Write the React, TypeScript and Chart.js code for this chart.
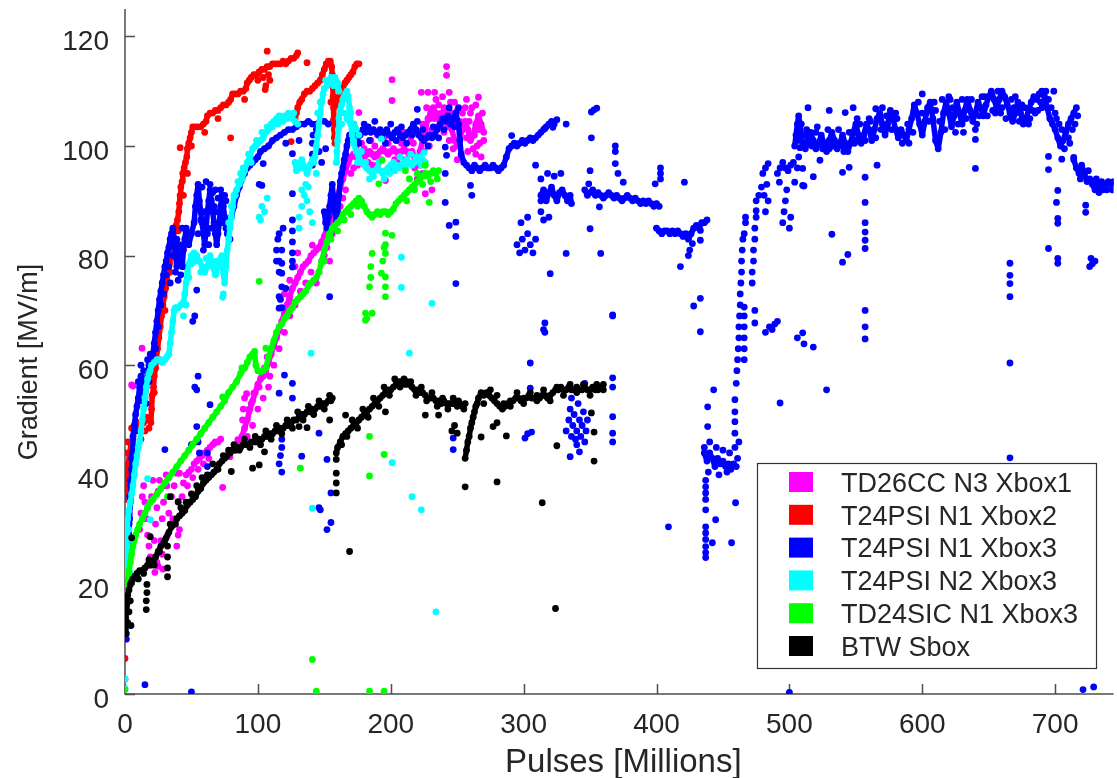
import React, { useEffect, useRef } from 'react';
import { Chart, registerables } from 'chart.js';

Chart.register(...registerables);

type Pt = [number, number];

// ---- series meta ----
const seriesNames = ['TD26CC N3 Xbox1', 'T24PSI N1 Xbox2', 'T24PSI N1 Xbox3', 'T24PSI N2 Xbox3', 'TD24SIC N1 Xbox3', 'BTW Sbox'];
const seriesColors = ['#ff00ff', '#ff0000', '#0000ff', '#00ffff', '#00ff00', '#000000'];
const xTicks = [0, 100, 200, 300, 400, 500, 600, 700];
const yTicks = [0, 20, 40, 60, 80, 100, 120];
const xTitle = 'Pulses [Millions]';
const yTitle = 'Gradient [MV/m]';

// ---- TD26CC N3 Xbox1 ----
const magentaTrace: Pt[] = [[86,46],[88,47],[90,48.5],[92,50],[94,52],[96,53.5],[98,55],[100,56.5],[102,57.5],[104,58],[106,59],[108,60.5],[110,62],[112,63.5],[114,65],[116,66.5],[118,68],[120,69.5],[122,71],[124,72.5],[126,74],[128,75],[130,76],[132,77],[134,78],[136,78.5],[138,79],[140,80],[142,80.5],[144,81],[146,81.5],[148,82.5],[150,83.5],[152,85],[154,86],[156,87.5],[158,89],[160,91],[162,92.5],[164,94],[166,95.5],[168,97],[170,98],[172,98.5],[174,98],[176,98.5],[178,97.5],[180,98],[182,98.5],[184,99],[186,98.5],[188,98],[190,98.5],[192,99],[194,99.5],[196,99],[198,98.5],[200,99],[202,99.5],[204,99],[206,98.5],[208,99],[210,99.5],[212,99],[214,98.5],[216,99],[218,98],[220,97],[222,99],[224,101],[226,103],[228,105],[230,106],[232,107],[234,106],[236,105],[238,104],[240,105],[242,106.5],[244,105],[246,103],[248,101],[250,100],[252,101.5],[254,103],[256,104.5],[258,103],[260,101],[262,102],[264,104],[266,105.5],[268,104],[270,102.5]];
const magentaDots: Pt[] = [[0,2.7],[0,39.6],[12.8,63.1],[5,56.4],[6,56.2],[11,30],[12,33],[13,36],[14,38],[15,35],[16,32],[17,29],[18,27],[19,25],[20,36],[21,39],[22,28],[23,31],[24,34],[25,37],[26,39],[27,28],[28,32],[29,35],[30,38],[31,40],[33,33],[35,36],[37,38],[39,40.3],[39,27],[40,29],[41,30],[22.5,22.2],[25,23.3],[28.5,22.8],[31.5,38],[33,39.5],[41,40.3],[24,24],[28,25.5],[32,29],[36,32],[40,35],[44,38.5],[48,40.5],[52,42],[56,43],[60,44],[64,45],[68,46],[72,46.5],[46,40],[50,41],[54,42.5],[58,43.5],[62,44.5],[66,45.5],[70,46],[43,36],[47,38],[51,39.5],[55,41],[59,42],[63,43],[67.5,45.8],[73.5,37.7],[79,43.3],[82,44.5],[85,46.4],[88.5,50],[89,52],[90,54],[91.5,54.8],[93,51.9],[95,53],[97,54.9],[101,56],[103,58],[105,59.5],[107,61.5],[109,58],[92,47],[96,49],[100,52],[104,54],[108,56],[112,60],[116,63],[120,66],[124,69],[128,71],[132,73.5],[136,75],[140,77],[144,75],[146,77],[148,79],[150,80],[152,81.5],[154,79],[156,84],[158,86],[160,87],[162,89],[164,90.5],[166,92],[120,73],[124,75.5],[128,78],[130,80.5],[124,70.6],[126,71.5],[141,81.9],[201,112.1],[201,108.3],[242,114.5],[242,112.9],[223,109.8],[228,109.8],[233,109.8],[244,109.8],[266,108.9],[256,107],[176,106.1],[231,92],[226,91.3],[196,93.7],[185,101],[190,102],[195,101.5],[205,101],[210,102.5],[215,101.5],[226,103],[230,105],[235,103.5],[240,107],[245,108],[250,106.5],[255,104],[260,106],[265,100],[268,98],[270,101],[250,97.5],[262,99.5],[244,101],[218,96],[220,94],[224,95],[205,97],[190,96.5],[180,99.5],[172,96],[174,100],[170,95],
[178,100.5],[183,97],[188,100],[193,97.5],[198,100.5],[203,97.5],[208,100.5],[213,97],[217,100.5],[222,96.5],[225,99],[228,102],[231,103],[233,105],[236,107.5],[238,106],[240,102.5],[243,103.5],[246,106],[248,104],[252,104.5],[254,106],[257,101.5],[259,104.5],[261,107],[263,102],[266,103],[269,106],[227,107],[234,108.5],[239,109],[248,108],[257,108.5],[264,107.5],[229,100],[236,101.5],[247,99.5],[253,98],[258,99],[264,98.5],[267,100.5],[224,104],[232,102],[211,97.5],[199,96],[186,96.5],[175,96.5]];

// ---- T24PSI N1 Xbox2 ----
const redTraceA: Pt[] = [[0,35.5],[0.5,37],[1,38.5],[1.5,40],[2.5,42],[3.5,44],[4.5,45.5],[6,46.5],[7,48],[8.5,49],[10,49.5],[12,49],[14,49.5],[16,50.5],[18,50],[19.5,49.5],[20,52],[20.5,54.5],[21.5,56],[22,58],[23,59.5],[23.5,61],[24.5,63],[25.5,65],[26.5,67],[27.5,69],[28.5,71],[29.5,72.5],[30.5,74],[31.5,75.5],[32.5,77],[33.5,78.5],[34.5,80],[35,82],[36,83.5],[37,84.5],[38.5,85.5],[39.5,86.5],[40.5,88],[41,89.5],[41.5,91],[42,92.5],[43,93.5],[43.5,95],[44.5,96],[45.5,97],[46.5,98],[47,99.5],[48,100.5],[49,101.5],[50,102.5],[51,103.5],[53,103.5],[55,103.5],[57,103.5],[59,104],[61,104.5],[62,105.5],[64,106],[66,106],[68,106.5],[70,106.5],[72,107],[74,107.5],[76,107.5],[78,108],[79.5,108.5],[81,109.5],[83,109.5],[85,109.5],[87,110],[89,110],[91,110.5],[92,111.5],[93.5,112],[95,112.5],[97,113],[99,113],[101,113.5],[103,114],[105,114],[107,114.5],[109,114.5],[111,115],[113,115],[115,115],[117,115],[119,115.5],[121,115],[123,115.5],[125,116],[127,116],[129,116.5],[130,117]];
const redTraceB: Pt[] = [[128,105],[129,106],[130,107],[131.5,108],[133,108.5],[135,109.5],[137,110],[139,110],[141,110.5],[143,111],[145,111.5],[147,112],[148.5,113],[150,114],[151.5,115],[153,115.5],[154.5,115.5],[155.5,114.5],[156,113],[156.3,111],[156.6,109],[157,107],[157.2,105],[157.5,103],[157.5,101.5]];
const redTraceC: Pt[] = [[160,107.5],[161,109],[162.5,110],[164,110.5],[165.5,111.5],[167,112],[168.5,112.5],[170,113],[171.5,113.5],[173,114.5],[174.5,115],[176,115]];
const redDots: Pt[] = [[0,6.5],[107,117.3],[105.5,110.3],[106,111],[79.5,101.5],[41.5,99.7],[137,115.2],[125,100.8],[108,113],[1,37.5],[0.5,44],[2,46],[5,48.5],[12,46.5],[15,48],[18,48.5],[22,55],[26,61],[30,70],[34,77],[37,82],[40,84.5],[44,91],[47,95],[50,100],[104,112.5],[109,112],[155,108],[158,100.5],[156.5,104.5],[60,102.5],[70,105],[90,108.5],[100,112]];

// ---- T24PSI N1 Xbox3 ----
const blueTraceA: Pt[] = [[0,11],[0.5,14],[1,17],[1.5,20],[2,23],[2.5,26],[3,29],[3.5,32],[4,35],[4.5,38],[5,41],[5.5,44],[6,47],[7,49],[8,51],[9,52.5],[10,54],[11,56],[12,58],[13,57],[14,55],[15,54],[16,56],[17,58],[18,60],[19,59],[20,61],[21,62],[22,64],[23,66],[24,68],[25,70],[26,72],[27,73.5],[28,75],[29,76.5],[30,78],[31,79],[32,80.5],[33,81.5],[34,83],[35,84],[36,85],[37,83],[38,80],[39,78],[40,80],[41,82],[42,80],[43,78],[44,81],[45,83],[46,85],[47,84],[48,82],[50,84],[52,86],[53,89],[54,91],[55,93],[56,90],[57,88],[58,86],[59,84],[60,82],[61,85],[62,88],[63,90],[64,92],[65,90],[66,88],[67,86],[68,84],[69,82],[70,84],[71,86],[72,89],[73,91],[74,89],[75,87],[76,85],[78,86],[80,87],[82,89],[84,91],[86,92.5],[88,94],[90,95],[92,96],[94,96.5],[96,97],[98,97.5],[100,98],[102,99],[105,99.5],[108,100],[111,101],[114,101.5],[117,102],[120,102.5],[123,103],[126,103],[129,103.5],[132,104],[135,104],[138,104.5],[141,104],[144,104],[147,104.5],[150,104.5],[153,104]];
const blueTraceB: Pt[] = [[150,88],[151,86],[152,85],[153,87],[154,89],[155,91],[156,93],[157,90],[158,88],[159,86],[160,88],[161,91],[162,93.5],[163,95],[164,96],[165,97.5],[166,98.5],[167,100],[168,101],[169,102],[171,102.5],[173,102],[175,101.5],[177,102],[179,103],[181,102.5],[183,103.5],[185,102.5],[187,103],[189,102.5],[191,102],[193,101.5],[195,102.5],[197,103],[199,102],[201,101.5],[203,102.5],[205,103],[207,102],[209,101.5],[211,102],[213,102.5],[215,103],[217,104],[219,103],[221,102],[223,101.5],[225,101],[227,101.5],[229,102],[231,101.5],[233,102],[235,103],[237,104],[239,105],[241,104.5],[243,105.5],[245,104],[247,105],[249,106],[251,104],[252,101],[253,98.5],[255,97],[257,96.5],[259,96],[261,95.5],[263,96.5],[265,96],[267,95.5],[269,96],[271,96.5],[273,96],[275,96],[277,96.5],[279,96],[281,95.5],[283,96],[285,96.5],[287,98],[289,99.5],[291,100],[293,100.5],[295,100],[297,100.5],[299,101],[301,100.5],[303,101],[305,101.5],[307,101],[309,101.5],[311,102],[313,102.5],[315,103],[317,103.5],[319,104],[321,104.5],[323,104]];
const blueTraceC: Pt[] = [[313,91],[315,92],[317,90],[319,91.5],[321,92.5],[323,91],[325,90],[327,91.5],[329,92],[331,91],[333,90],[335,91],[336,89.5]];
const blueTraceD: Pt[] = [[346,92],[348,91],[350,91.5],[352,92],[354,91],[356,91.5],[358,91],[360,90.5],[362,91],[364,91.5],[366,91],[368,90.5],[370,91],[372,90.5],[374,90],[376,90.5],[378,91],[380,90.5],[382,90],[384,90.5],[386,90],[388,89.5],[390,90],[392,89.5],[394,90],[396,89.5],[398,89],[400,89.5],[402,89]];
const blueTraceE: Pt[] = [[400,85],[402,84.5],[404,84],[406,84.5],[408,84.5],[410,84],[412,84.5],[414,84],[416,84.5],[418,84],[420,83.5],[422,84],[424,83],[426,84],[428,85],[430,85.5],[432,85],[434,86],[436,86],[438,86.5]];
const blueTraceF: Pt[] = [[436,44],[438,42.5],[440,44],[442,43],[444,41.5],[446,43],[448,42],[450,42.5],[452,41.5],[454,42],[456,41],[458,42],[460,41.5]];
const blueTraceG: Pt[] = [[504,100],[505,102],[506,104],[507,105.5],[508,104],[509,102],[510,100.5],[512,99.5],[514,101],[516,102.5],[518,101],[520,99.5],[522,100.5],[524,102],[526,100.5],[528,99],[530,101],[532,102.5],[534,101],[536,99.5],[538,100.5],[540,102],[542,100.5],[544,99],[546,100.5],[548,102.5],[550,104],[552,102],[554,100.5],[556,102],[558,104],[560,103],[562,101],[564,103],[566,105],[568,106],[570,104],[572,102],[574,104],[576,106.5],[578,105],[580,103],[582,101.5],[584,103],[586,102],[588,101],[590,103],[592,105],[594,107.5],[596,106],[598,104],[600,102],[602,104.5],[604,107],[606,108],[608,105],[610,101],[612,99.5],[614,102.5],[616,106],[618,108],[620,106],[622,103.5],[624,105.5],[626,108],[628,106],[630,104],[632,106.5],[634,108.5],[636,106.5],[638,104.5],[640,106],[642,108],[644,107],[646,105.5],[648,107.5],[650,109],[652,110],[654,108.5],[656,107],[658,108.5],[660,110],[662,109],[664,107.5],[666,106],[668,104.5],[670,106],[672,108],[674,106],[676,104],[678,105],[680,106.5],[682,108],[684,109],[686,108.5],[688,109.5],[690,110],[692,109],[694,107],[696,105],[698,104],[700,103],[702,101.5],[704,100],[706,101],[708,102.5],[710,104],[712,105],[714,106],[716,107]];
const blueTraceH: Pt[] = [[714,97.5],[716,96],[718,95],[720,96.5],[722,95],[724,93.5],[726,94],[728,93],[730,92],[732,93],[734,92.5],[736,92],[738,93],[740,93.5],[742,93],[744,93.5]];
const blueDots: Pt[] = [[15,1.7],[50,0.4],[500,0.3],[721,0.8],[729,1.3],[1,10],[0.5,12],[2,27],[3,31],[3.5,36],[4,39],[5,43],[8,48],[12,53.5],[14,59],[16,53],[18,57],[19,62],[23,63],[25,67],[27,71],[29,73],[31,76.5],[33,78],[17,61],[10,57],[12,60],[13,55.5],
[30,44.6],[54,73.7],[52.5,69],[51,68],[55,58],[52.5,56],[54,55.5],[64,52.8],[54,48.8],[55,46],[56,44],[50,45.5],[62,44],[62,41.5],[118,40.5],[116,42],[117,43.5],[118,45],[118,46.5],[116,54.9],[126,54],[120,58.2],[126,56.7],[116,70.4],[116,72.5],[116,77],[116,79],[126,79],[126,80.5],[126,82.5],[126,84.5],[126,86.5],[114,79],[114,81],[115,83],[119,85],[121,74],[133,43.4],[146,47.6],[152,42.8],[146,34],[147,33.6],[155,36.7],[155,31.3],[152,30],[101,93],[104,96.8],[103,92.8],[126,91.3],[141,96.5],[141,98.5],[141,100.5],[141.5,102],[144,103],[146,99],[148,97],[151,99.5],[154,72.5],[121,100.5],[131,101],[126,98.6],[118,74.3],[118,76.8],[118,78.6],[118,81],[116,84],[126,77.9],[117,72],[118,70.5],[247,46.7],[247,44.6],
[55,84],[57,86.5],[59,81],[60,88],[62,84],[63,82],[65,85],[67,89],[68,92],[70,90.5],[72,92],[75,91],[77,84],[79,83],[58,92.5],[61,93.5],[64,93],[66,91.5],[69,88],[73,86],[76,90],[36,80],[38,77],[40,75.5],[42,76.5],[44,78],[34,75],[39,83],[43,85],
[172,104],[176,100.5],[180,104],[184,101],[188,104.5],[192,103],[196,100.5],[200,104],[204,101],[208,103.5],[212,100.5],[216,102],[220,104.5],[224,103],[228,100],[232,103.5],[236,101.5],[240,103],[244,107],[248,103.5],
[220,106.7],[251,107],[241,99.8],[242,98.3],[241,95],[260,92.8],[261,91],[241,89.7],[244,85.5],[249,86.1],[249,83.5],[249,74.9],[291,101.9],[309,96.5],[316,103.2],[322,103.4],[325,104.8],[332,104],[351,106.2],[353,106.6],[355,106.9],[351,101.5],[350,95.5],[349,93.1],[350,84.9],[357,88.9],[369,99],[369,100],[369,96.8],[371,95],[375,93.4],[403,94],[403,95],[403,96],[399,93.1],[421,93.4],[295,82],[297,80.5],[299,83],[301,81],[303,84],[305,82],[307,80.5],[309,83],[298,86],[303,87],[313,88],[315,86.5],[313,90],[319,87],[313,94],[318,95],[323,94.5],[328,95],[320,76.7],[332,80.4],[358,80.4],[418,78],[433,72.2],[428,70.8],[433,66.1],[367,69],[316,66],[316,67.7],[424,80],[425,81],[427,82.2],[409,30.5],
[332,48],[334,50],[335,52],[336,47],[337,49],[338,51],[339,46.5],[340,48],[341,53],[342,50],[343,47],[344,49],[345,51.5],[346,46],[347,48],[348,50],[336,54],[340,45.5],[335,43.3],[342,44.2],[305,60.4],[305,55.8],[301,46.7],[303,47.5],[306,47.8],[315,66.5],[346,56.7],[367,56],[367,57.7],[367,50.6],[367,46],[367,47.6],[367,69.2],
[437,39],[437,37.8],[437,36.7],[437,35.5],[437,33.6],[437,30.5],[437,29.4],[437,28.2],[437,26.9],[437,25.8],[437,24.9],[444.5,31.8],[456.5,27.6],[442,27.6],[459.5,34.9],[438.5,52.4],[443,55.5],[438.5,48.8],[459,49.7],[459,51.5],[459,53.7],[459,45],[459,47.6],[436,45],[440,46],[445,45],[450,44.5],[455,44],[439,40.5],[447,40],[453,40.5],[461,43],[462,46],
[460,56.7],[460.5,59],[461,61],[461.5,63],[462,65],[462,67],[462.5,69],[463,71],[463,73],[463.5,75],[464,77],[464,79],[464.5,81],[465,83],[466,84],[467,86],[467,87],[466,61],[466,63],[466,65],[466,67],[466,69],[466,70.6],[474,67.7],[474,70],[472,75],[472,77],[473,79],[473,81],[474,83],[474,85],[475,87],[475,88.2],[475,90],[477,91],[479,92.5],[481,91],[483,93],[484,90],[482,88],[480,95],[482,96],[484,96.8],[485,67],[487,66.5],[489,67.5],[491,68],[482,66],[510,65.9],[511,63.9],[518,63.3],[491,95],[493,96],[495,97],[497,96],[499,95.5],[501,96.5],[503,97],[495,86],[496,88],[497,90],[498,92],[500,85],[501,87],[504,93.4],[510,92.8],[492.5,93.4],[506,96],[507,98],[508,99.7],[433,84.6],[433,82.8],[532,83.9],[540,78.8],[544,80.2],[506,65],[528,55.5],[493,53.1],[666,60.4],[666,43.1],
[640,101.2],[640,95.9],[557,94.3],[557,89.7],[557,86],[557,84.3],[557,82.8],[557,81.3],[557,70],[557,67],[557,64.8],[566,96.5],[542,106.1],[565,106.8],[518,94.4],[511,92.7],[510,95.9],[523,97.4],[540,95.2],[545,96.1],[695,98.1],[695,95.7],[702,91.9],[701,89.7],[702,85.9],[702,86.8],[695,81.3],[702,79.5],[702,78.6],[705,97.6],[723,87.9],[723,89.2],[714,97.9],[733,91.5],[666,78.6],[666,76.4],[666,74.9],[666,72.5],[726,78],[728,78.5],[730,79],[727,79.5],[514,107],[530,106.5],[548,107],[620,109],[600,109.5],[699,110],[551,105],
[512,102],[520,102.5],[530,99.5],[540,100],[550,101],[560,105],[570,107],[580,106],[590,100.5],[600,106],[610,106.5],[615,108.5],[625,102.5],[630,108.5],[640,103],[645,109],[655,106],[660,107],[670,109],[675,107.5],[680,104],[685,106],[690,107],[695,108.5],[700,106],[705,103],[710,101.5],[713,103],
[506,101],[509,104],[513,103],[517,100],[521,103.5],[525,99.5],[529,103],[533,100],[537,103],[541,99],[545,102.5],[549,100.5],[553,104],[557,101],[561,104.5],[565,101.5],[569,103],[573,105.5],[577,103],[581,105],[585,100.5],[589,104],[593,102.5],[597,108],[601,104],[605,104.5],[609,108],[613,104.5],[617,103],[621,108.5],[623,107],[627,104],[631,102.5],[633,105],[637,108.5],[641,104],[643,105.5],[647,109],[649,105.5],[653,106.5],[657,110],[659,106],[663,105],[667,108.5],[669,107],[673,104.5],[677,107],[681,105],[683,106.5],[687,106.5],[689,108],[691,108],[693,110],[697,107],[701,105],[703,104],[707,99.5],[711,100.5],[715,104],[717,105.5],[719,94],[725,95.5],[731,94],[735,93.5],[739,92],[743,92]];

// ---- T24PSI N2 Xbox3 ----
const cyanTraceA: Pt[] = [[0,20],[0.5,23],[1,26],[1.5,29],[2,32],[3,33.5],[4,35],[5,36.5],[6,38],[7,40],[8,42],[9,43.5],[10,45],[11,46],[12,48],[13,50],[14,52],[15,54],[16,56],[17,57.5],[18,58.5],[19,59],[20,60],[22,60.5],[24,61],[26,61],[28,60.5],[30,61],[31.5,61.5],[33,62],[34,64],[35,66],[36,68],[37,70],[38,70.5],[40,70.5],[42,71],[44,71.5],[45,73],[46,75],[47,77],[48,78.5],[50,80],[52,80.5],[54,80],[56,79],[58,78],[60,77],[62,78],[64,80],[66,78],[68,76.5],[70,78],[72,79.5],[74,77],[75,75],[76,78],[77,81],[78,83],[79,85],[80,87],[81,89],[82,91],[84,92],[86,93],[88,94],[90,95.5],[92,97],[94,98],[96,99.5],[98,100],[100,100.5],[102,101],[104,101.5],[106,102.5],[108,103],[110,104],[112,104.5],[114,105],[116,105.5],[118,105],[120,105.5],[122,105],[124,105.5],[126,105],[128,104.5],[130,104]];
const cyanTraceB: Pt[] = [[128,97],[129,95.5],[131,96],[133,97.5],[135,96],[137,95],[139,96.5],[141,97.5],[143,98],[144,100],[145,102],[146,104],[147,106],[148,108],[149,109.5],[150,110.5],[152,111],[154,111.5],[156,112],[158,112.5],[160,111.5],[161,110]];
const cyanTraceC: Pt[] = [[159,97],[159.5,99],[160,101],[160.5,103],[161,105],[162,106.5],[163,107.5],[164,108.5],[165,109],[166,109.5],[167,110],[168,109],[169,107],[170,104],[171,102],[172,100.5],[174,99],[176,98],[178,97],[180,96.5],[182,96],[184,95.5],[186,95],[188,95.5],[190,96],[192,95.5],[194,95],[196,95.5],[198,96],[200,96.5],[202,97],[204,96.5],[206,96],[208,96.5],[210,97],[212,97.5],[214,97],[216,96.5],[218,97],[220,97.5],[222,98],[224,97.5]];
const cyanDots: Pt[] = [[131,85],[131,87],[133,89],[135,91],[137,90],[139,88],[141,86],[133,92],[136,93],[138,92.5],[208,79.7],[208,74.2],[231,71.3],[193,101.3],[225,98.8],[140,62.2],[214,62.2],[201,42.2],[216,36],[223,33.6],[234,15],[141,33.9],[17,34.2],[19,31.8],[17,39.3],[0,2.7],[0,1],[101,87],[103,89],[105,88],[107,90.5],[102,86.5],[1,24],[2,27],[3,30],[4,22],[6,28],[174,103],[172,104],[170,106],
[44,69],[46,71],[48,76],[50,78.5],[53,79],[57,77],[61,79.5],[65,79],[69,79],[73,80],[74,73],[73.5,72.4],[75,76],[78,86],[80,89],[83,91],[85,93.5],[87,95],[89,96],[93,98.5],[95,97],[99,101],[103,102.5],[107,103.5],[111,103.5],[115,104],[119,104.5],[123,106],[127,106],[145,106],[147,108],[151,112],[155,112.5],[157,111],[142,97],[144,95],[165,106],[167,105],[169,104.5],[172,101],[175,97],[178,99],[181,97],[184,94],[187,94.5],[191,97],[195,94],[199,95],[203,95.5],[207,98],[211,96],[215,98.5],[219,98],[223,96.5],[226,97],[173,103.5],[176,102],[163,104]];

// ---- TD24SIC N1 Xbox3 ----
const greenTrace: Pt[] = [[0,12],[0.5,14],[1,16.5],[1.5,18.5],[2,20.5],[3,22.5],[4,24],[5,25.5],[6,27],[7,28],[8,29],[9.5,30],[11,31],[13,32],[15,33],[17,34],[19,35],[21,35.5],[24,36.5],[27,37.5],[30,38.5],[33,39.5],[36,40.5],[39,41.5],[42,42.5],[45,43.5],[48,44.5],[51,45.5],[54,46.5],[57,47.5],[60,48.5],[63,49.5],[66,50.5],[69,51.5],[72,52.5],[75,53.5],[78,55],[81,56],[84,57],[87,58.5],[90,59.5],[92,60.5],[94,61.5],[96,62],[97.5,62.5],[98.5,60],[100,59],[102,58.8],[104,59],[106,59.5],[108,61.5],[110,63],[112,64.5],[114,66],[116,67],[118,67.5],[120,68.5],[122,69],[124,70],[126,70.5],[128,71.5],[130,72],[132,72.5],[134,73],[136,73.5],[138,74.5],[140,75],[142,75.5],[144,76],[146,77],[148,79],[150,81],[152,82.5],[154,84],[156,85],[158,85.5],[160,86],[162,86.5],[164,87.5],[166,88],[168,88.5],[170,89],[172,89.5],[174,90],[176,90.5],[178,90],[180,89],[182,88],[184,87.5],[186,87],[188,87.5],[190,88],[192,87.5],[194,88],[196,88],[198,87.5],[200,88],[202,88.5],[204,89.5],[206,90],[208,90.5],[210,91],[212,91.5],[214,92],[216,92.5],[218,93],[220,93.5],[222,94],[224,94.5],[226,95],[228,94.5],[230,95],[232,95.5],[234,95],[236,95.5]];
const greenDots: Pt[] = [[101,75.3],[88,59.5],[73.5,54.2],[106,63.1],[184,47],[195,43.7],[184,39.8],[132,41.2],[141,6.3],[144,0.5],[184,0.5],[195,0.5],[0,0.8],[32,36],[181,68.2],[181,69.5],[182,68.5],[186,69.5],[184,74.3],[185,76],[185,78],[186,80.4],[196,80.4],[196,82],[196,84.1],[196,76.1],[196,72.5],[196,74.3],[193.5,97.4],[201,83.7],[229,89.7],[191,93.1],[211,95.5],[193,76.8],[194,79],[195,81.5],[150,79],[155,83],[160,84.5],[165,86.5],[170,87.5],[175,89],[212,90],[218,92],[224,93],[230,93.5],[235,94],[220,95],[226,96.5],[214,94]];

// ---- BTW Sbox ----
const blackTraceA: Pt[] = [[0,12],[0.5,13.5],[1,15],[1.5,16.5],[2,18],[3,19],[4,20],[5,20.5],[6,21],[7.5,21.5],[9,22],[11,22.5],[13,22.5],[15,23],[17,23.5],[19,23.5],[21,24],[23,25],[25,26],[27,27],[29,27.5],[31,28.5],[33,29.5],[35,30.5],[37,31],[39,32],[41,32.5],[43,33],[45,33.5],[47,34.5],[49,35],[51,35.5],[53,36],[55,37],[57,37.5],[59,38.5],[61,39],[63,39.5],[65,40],[67,40.5],[69,41],[71,42],[73,42.5],[75,43],[77,43.5],[79,44],[81,44.5],[83,44.5],[85,45],[87,45],[89,45.5],[91,45.5],[93,45.5],[95,46],[97,46],[99,46],[101,46.5],[103,46.5],[105,47],[107,47],[109,47.5],[111,47.5],[113,48],[115,48],[117,48.5],[119,48.5],[121,49],[123,49],[125,49.5],[127,50],[129,50],[131,50.5],[133,51],[135,51],[137,51.5],[139,51.5],[141,52],[143,52],[145,52.5],[147,52.5],[149,53],[151,53],[153,53.5],[155,53.5],[156,54]];
const blackTraceB: Pt[] = [[159,44],[160,45],[162,46],[164,47],[166,47.5],[168,48],[170,48.5],[172,49],[174,49.5],[176,50],[178,50.5],[180,51],[182,51.5],[184,52],[186,52.5],[188,53],[190,53.5],[192,54],[194,54.5],[196,55],[198,55.5],[200,55.5],[202,56],[204,56.5],[206,57],[208,57],[210,57.5],[212,57],[214,56.5],[216,56],[218,55.5],[220,55.5],[222,55],[224,55],[226,54.5],[228,54],[230,54],[232,54],[234,53.5],[236,53.5],[238,53],[240,53.5],[242,53],[244,53],[246,53],[248,53],[250,52.5],[252,53],[254,52.5],[256,53]];
const blackTraceC: Pt[] = [[256,43],[257,44.5],[258,46],[259,47],[260,48.5],[261,49.5],[262,50.5],[263,51.5],[264,52.5],[265,53],[266,54],[268,55],[270,54.5],[272,55],[274,54.5],[276,54],[278,53.5],[280,53],[282,52.5],[284,52],[286,52.5],[288,53],[290,53.5],[292,53.5],[294,54],[296,54],[298,53.5],[300,54],[302,54],[304,54.5],[306,54],[308,54],[310,54.5],[312,54],[314,54.5],[316,54.5],[318,54],[320,54.5],[322,55],[324,55.5],[326,55.5],[328,56],[330,55.5],[332,55.5],[334,56],[336,55.5],[338,55.5],[340,56],[342,55.5],[344,55.5],[346,56],[348,55.5],[350,55.5],[352,56],[354,55.5],[356,55.5],[358,56],[360,55.5]];
const blackDots: Pt[] = [[169,26],[166,50.9],[196,51.5],[226,50.9],[236,50.9],[256,37.8],[280,38.7],[96,41.2],[101,41.8],[80,40.6],[105,44.2],[131,48.8],[137,48.6],[154,50],[34,36],[40,35.1],[19,28.7],[5,28.5],[314,34.9],[324,15.6],[325,45.3],[353,42.5],[353,47.8],[351,51.3],[287,47.1],[268,46.9],[277,48.8],[280,49.5],[159,36.7],[159,40.3],[159,42.8],[159,38.5],[16,15.4],[16,17],[16.5,18.5],[16.5,20],[32,21.4],[32,23],[32,25],[32,27],[246,48],[248,49],[250,47.6],[0,14],[1,11],[2,13],[3,15],[4,17],[4.5,12.5],
[10,21],[14,22],[18,24.5],[22,23.5],[26,26],[30,28],[34,31],[38,31],[42,34],[46,35],[50,36.5],[54,38],[58,39.5],[62,40],[66,42],[70,41],[74,43.5],[78,44.5],[82,45.5],[86,44.5],[90,46.5],[94,45],[98,47],[102,45.5],[106,48],[110,46.5],[114,49],[118,47.5],[122,50],[126,48.5],[130,51.5],[134,50],[138,52.5],[142,51],[146,53.5],[150,52],[154,54.5],[163,45.5],[167,47],[171,50],[175,48.5],[179,52],[183,50.5],[187,54],[191,52.5],[195,56],[199,54.5],[203,57.5],[207,56],[211,56.5],[215,57],[219,54.5],[223,56],[227,53.5],[231,55],[235,52.5],[239,54],[243,52],[247,54],[251,53.5],[255,52],[270,53],[275,55.5],[280,54.5],[285,53],[290,52.5],[295,55],[300,53],[305,55],[310,53.5],[315,55.5],[320,53.5],[325,56],[330,54.5],[335,56.5],[340,55],[345,56.5],[350,54.5],[355,56.5],[360,56.5]];

// traces (drawn as connected runs) and loose points, per series in legend order
const seriesTraces: Pt[][][] = [
  [magentaTrace],
  [redTraceA, redTraceB, redTraceC],
  [blueTraceA, blueTraceB, blueTraceC, blueTraceD, blueTraceE, blueTraceF, blueTraceG, blueTraceH],
  [cyanTraceA, cyanTraceB, cyanTraceC],
  [greenTrace],
  [blackTraceA, blackTraceB, blackTraceC],
];
const seriesDots: Pt[][] = [magentaDots, redDots, blueDots, cyanDots, greenDots, blackDots];

const FONT = "'Liberation Sans', Arial, Helvetica, sans-serif";
const TEXT = '#262626';
const DOT_R = 3.4;

function toXY(pts: Pt[]) {
  return pts.map(([x, y]) => ({ x, y }));
}

function buildDatasets() {
  const sets: any[] = [];
  // later series sit on top: push them first (dataset 0 is painted last)
  for (let i = seriesNames.length - 1; i >= 0; i--) {
    const color = seriesColors[i];
    seriesTraces[i].forEach((t) => {
      sets.push({
        label: seriesNames[i],
        data: toXY(t),
        showLine: true,
        borderColor: color,
        backgroundColor: color,
        borderWidth: 5.5,
        borderJoinStyle: 'round',
        borderCapStyle: 'round',
        pointRadius: DOT_R,
        pointBorderWidth: 0,
        pointHoverRadius: DOT_R,
      });
    });
    sets.push({
      label: seriesNames[i],
      data: toXY(seriesDots[i]),
      showLine: false,
      borderColor: color,
      backgroundColor: color,
      pointRadius: DOT_R,
      pointBorderWidth: 0,
      pointHoverRadius: DOT_R,
    });
  }
  return sets;
}

const framePlugin = {
  id: 'matlabFrame',
  beforeDatasetsDraw(chart: any) {
    const { ctx, chartArea: a, scales } = chart;
    const sx = scales.x;
    const sy = scales.y;
    ctx.save();
    ctx.strokeStyle = '#4d4d4d';
    ctx.lineWidth = 1.5;
    ctx.beginPath();
    ctx.moveTo(a.left, a.top);
    ctx.lineTo(a.left, a.bottom);
    ctx.lineTo(a.right, a.bottom);
    ctx.stroke();
    ctx.beginPath();
    yTicks.forEach((v) => {
      const py = Math.round(sy.getPixelForValue(v)) + 0.5;
      ctx.moveTo(a.left, py);
      ctx.lineTo(a.left + 10, py);
    });
    xTicks.forEach((v) => {
      const px = Math.round(sx.getPixelForValue(v)) + 0.5;
      ctx.moveTo(px, a.bottom);
      ctx.lineTo(px, a.bottom - 10);
    });
    ctx.stroke();

    ctx.fillStyle = TEXT;
    ctx.font = `28px ${FONT}`;
    ctx.textBaseline = 'alphabetic';
    ctx.textAlign = 'right';
    yTicks.forEach((v) => ctx.fillText(String(v), a.left - 16, sy.getPixelForValue(v) + 13.5));
    ctx.textAlign = 'center';
    xTicks.forEach((v) => ctx.fillText(String(v), sx.getPixelForValue(v), a.bottom + 39));

    ctx.font = `33px ${FONT}`;
    ctx.fillText(xTitle, (a.left + a.right) / 2 + 4, a.bottom + 78);
    ctx.font = `27px ${FONT}`;
    ctx.save();
    ctx.translate(37, 362);
    ctx.rotate(-Math.PI / 2);
    ctx.fillText(yTitle, 0, 0);
    ctx.restore();
    ctx.restore();
  },
  afterDatasetsDraw(chart: any) {
    const { ctx } = chart;
    const bx = 757, by = 463, bw = 339, bh = 205;
    ctx.save();
    ctx.fillStyle = '#ffffff';
    ctx.fillRect(bx, by, bw, bh);
    ctx.strokeStyle = '#333333';
    ctx.lineWidth = 1.2;
    ctx.strokeRect(bx + 0.5, by + 0.5, bw, bh);
    ctx.font = `27px ${FONT}`;
    ctx.textAlign = 'left';
    ctx.textBaseline = 'alphabetic';
    seriesNames.forEach((name, i) => {
      const cy = 482 + i * 32.8;
      ctx.fillStyle = seriesColors[i];
      ctx.fillRect(789, cy - 10, 24, 20);
      ctx.fillStyle = TEXT;
      ctx.fillText(name, 841, cy + 9.7);
    });
    ctx.restore();
  },
};

export default function App() {
  const ref = useRef<HTMLCanvasElement | null>(null);
  useEffect(() => {
    if (!ref.current) return;
    const chart = new Chart(ref.current, {
      type: 'scatter',
      data: { datasets: buildDatasets() },
      options: {
        animation: false,
        responsive: false,
        devicePixelRatio: 1,
        layout: { padding: { left: 125, top: 9, right: 0, bottom: 84 } },
        scales: {
          x: { type: 'linear', min: 0, max: 744, display: false },
          y: { type: 'linear', min: 0, max: 125, display: false },
        },
        plugins: { legend: { display: false }, tooltip: { enabled: false } },
        events: [],
      },
      plugins: [framePlugin],
    } as any);
    return () => chart.destroy();
  }, []);
  return (
    <div style={{ position: 'absolute', left: 0, top: 0, width: 1117, height: 778, background: '#fff' }}>
      <canvas ref={ref} width={1117} height={778} style={{ width: 1117, height: 778, display: 'block' }} />
    </div>
  );
}
